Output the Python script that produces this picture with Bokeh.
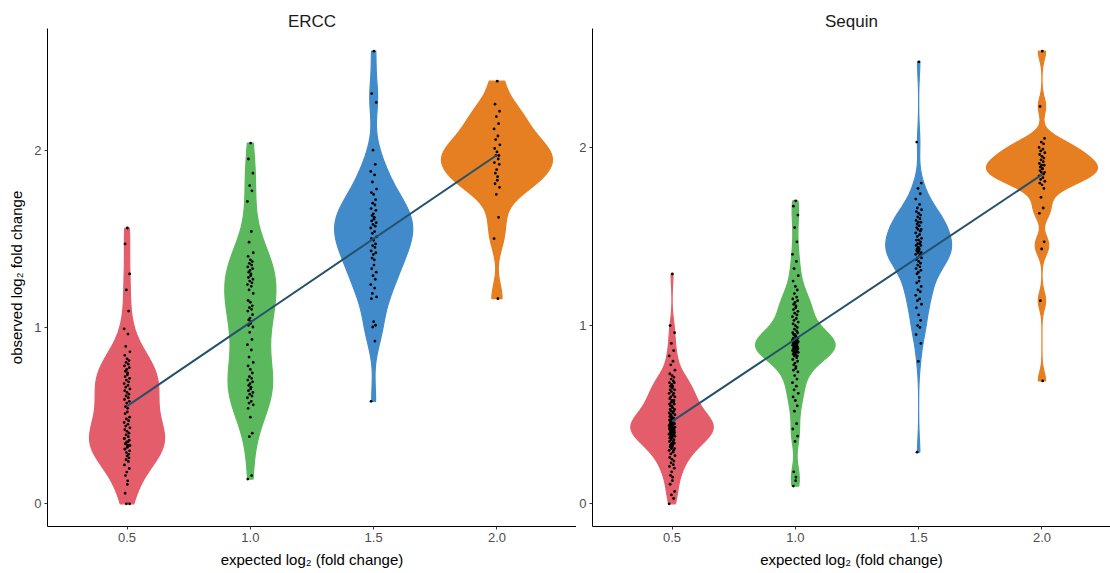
import numpy as np
from bokeh.plotting import figure
from bokeh.layouts import row
from bokeh.models import FixedTicker, NumeralTickFormatter, Range1d
from bokeh.embed import file_html
from bokeh.resources import INLINE

# ---- data -------------------------------------------------------------
expected = [0.5, 1.0, 1.5, 2.0]
x_tick_labels = ["0.5", "1.0", "1.5", "2.0"]
y_ticks = [0, 1, 2]
panel_titles = ["ERCC", "Sequin"]

# observed log2 fold change per spike-in, ERCC
ercc_05 = [1.56, 1.47, 1.30, 1.21, 1.09, 0.99, 0.96, 0.89, 0.86, 0.84,
           0.82, 0.81, 0.80, 0.79, 0.78, 0.77, 0.76, 0.75, 0.74, 0.73, 0.72, 0.71,
           0.70, 0.69, 0.68, 0.67, 0.66, 0.65, 0.64, 0.63, 0.62, 0.61, 0.60, 0.59,
           0.58, 0.57, 0.55, 0.54, 0.52, 0.51,
           0.49, 0.48, 0.47, 0.46, 0.45, 0.44, 0.43, 0.42, 0.41, 0.40, 0.39, 0.38,
           0.37, 0.36, 0.35, 0.34, 0.33, 0.32, 0.31, 0.30, 0.29, 0.28,
           0.37, 0.35, 0.34, 0.33, 0.31,
           0.27, 0.26, 0.25, 0.24, 0.22, 0.20, 0.18, 0.16, 0.13, 0.11,
           0.06, 0.00, 0.00]
ercc_10 = [2.04, 1.95, 1.87, 1.80, 1.77, 1.71, 1.54, 1.48,
           1.42, 1.40, 1.38, 1.37, 1.36, 1.35, 1.34, 1.33, 1.32, 1.31, 1.30, 1.29,
           1.28, 1.27, 1.26, 1.25, 1.24, 1.23, 1.21, 1.19,
           1.15, 1.14, 1.12, 1.11, 1.10, 1.09, 1.07, 1.05, 1.04, 1.03, 1.02, 1.01, 1.00,
           0.97, 0.93, 0.90, 0.87, 0.83, 0.80,
           0.78, 0.76, 0.74, 0.72, 0.71, 0.70, 0.69, 0.68, 0.67, 0.66, 0.65, 0.64,
           0.63, 0.62, 0.61, 0.60, 0.58, 0.57, 0.56, 0.54,
           0.49, 0.40, 0.38, 0.16, 0.14]
ercc_15 = [2.56, 2.32, 2.27, 2.00, 1.92, 1.88, 1.86, 1.82, 1.78, 1.76, 1.75,
           1.72, 1.70, 1.69, 1.67, 1.66, 1.64, 1.63, 1.62, 1.61, 1.60,
           1.59, 1.58, 1.57, 1.56, 1.54, 1.53, 1.51, 1.50,
           1.49, 1.47, 1.46, 1.45, 1.43, 1.42, 1.41, 1.39, 1.38,
           1.35, 1.33, 1.31, 1.29, 1.27, 1.24, 1.22, 1.19, 1.17, 1.16,
           1.03, 1.01, 1.00, 0.92, 0.58]
ercc_20 = [2.39, 2.26, 2.22, 2.19, 2.15, 2.12, 2.08, 2.06, 2.03, 2.01,
           1.99, 1.97, 1.97, 1.95, 1.93, 1.92, 1.89, 1.87, 1.85, 1.83,
           1.81, 1.79, 1.75, 1.62, 1.50, 1.16]

# observed log2 fold change per spike-in, Sequin
sequin_05 = [1.29, 1.00, 0.96, 0.90, 0.86, 0.83, 0.80, 0.78,
             0.75, 0.73, 0.72, 0.71, 0.70, 0.69, 0.68, 0.68, 0.67, 0.66, 0.66, 0.65,
             0.64, 0.64, 0.63, 0.62, 0.62, 0.61, 0.60, 0.60,
             0.59, 0.58, 0.58, 0.57, 0.57, 0.56, 0.56, 0.55, 0.55, 0.54, 0.54, 0.53,
             0.53, 0.52, 0.52, 0.51, 0.51, 0.50, 0.50,
             0.49, 0.49, 0.48, 0.48, 0.48, 0.47, 0.47, 0.47, 0.46, 0.46, 0.46, 0.45,
             0.45, 0.45, 0.45, 0.44, 0.44, 0.44, 0.43, 0.43, 0.43, 0.42, 0.42, 0.42,
             0.42, 0.41, 0.41, 0.41, 0.40, 0.40, 0.40, 0.40, 0.39, 0.39, 0.39, 0.38,
             0.38, 0.38, 0.37, 0.37, 0.36, 0.36, 0.35, 0.35, 0.34, 0.34, 0.33, 0.33,
             0.32, 0.32, 0.31, 0.31, 0.30, 0.30,
             0.29, 0.28, 0.27, 0.26, 0.25, 0.24, 0.23, 0.22, 0.21, 0.20, 0.18, 0.16,
             0.15, 0.13, 0.11,
             0.07, 0.05, 0.03, 0.00]
sequin_10 = [1.70, 1.67, 1.62, 1.55, 1.47, 1.40, 1.36, 1.32, 1.28, 1.25, 1.22, 1.20,
             1.18, 1.16,
             1.15, 1.14, 1.13, 1.12, 1.11, 1.10, 1.09, 1.08, 1.07, 1.06, 1.05, 1.04,
             1.03, 1.02, 1.01, 1.00,
             0.99, 0.98, 0.97, 0.96, 0.96, 0.95, 0.95, 0.94, 0.94, 0.93, 0.93, 0.92,
             0.92, 0.92, 0.91, 0.91, 0.91, 0.90, 0.90, 0.90, 0.89, 0.89, 0.89, 0.88,
             0.88, 0.88, 0.88, 0.87, 0.87, 0.87, 0.86, 0.86, 0.86, 0.85, 0.85, 0.85,
             0.84, 0.84, 0.83, 0.83, 0.82, 0.81, 0.80,
             0.79, 0.78, 0.77, 0.76, 0.75, 0.74, 0.72, 0.70, 0.68, 0.66, 0.64, 0.62,
             0.60,
             0.58, 0.55, 0.52,
             0.45, 0.42, 0.38, 0.35, 0.18, 0.15, 0.13, 0.10]
sequin_15 = [2.48, 2.03, 1.80, 1.77, 1.74, 1.71, 1.68, 1.66,
             1.65, 1.64, 1.63, 1.62, 1.61, 1.60, 1.59, 1.58, 1.58, 1.57, 1.56, 1.56,
             1.55, 1.54, 1.54, 1.53, 1.52, 1.51, 1.50,
             1.49, 1.48, 1.48, 1.47, 1.46, 1.46, 1.45, 1.45, 1.44, 1.43, 1.43, 1.42,
             1.42, 1.41, 1.41, 1.40, 1.40, 1.39, 1.38, 1.38, 1.37, 1.36, 1.35, 1.34,
             1.33, 1.32, 1.31, 1.30,
             1.29, 1.27, 1.25, 1.24, 1.22, 1.20, 1.19, 1.17, 1.15, 1.14, 1.12, 1.10,
             1.06, 1.03, 1.00, 0.99, 0.95, 0.90, 0.80, 0.29]
sequin_20 = [2.54, 2.23, 2.05, 2.03, 2.02, 2.00, 1.99, 1.98, 1.97, 1.96, 1.95, 1.94,
             1.93, 1.92, 1.91, 1.90, 1.90, 1.89, 1.88, 1.88, 1.87, 1.86, 1.86, 1.85,
             1.84, 1.83, 1.82, 1.81, 1.80, 1.79, 1.77, 1.72, 1.66, 1.63, 1.47, 1.43,
             1.14, 0.69]

# ---- styling ----------------------------------------------------------
FILLS = ["#e35d6a", "#5cb85c", "#428bca", "#e67e22"]
FIT_COLOR = "#24506e"
FONT = "Liberation Sans"
VIOLIN_WIDTH = 0.45          # full width of the widest violin, in x units
JITTER = [0.1, -0.6, 0.8, -0.2, 0.5, -0.9, 0.3, -0.4, 0.9, -0.7,
          0.0, 0.6, -0.3, 0.4, -0.8, 0.7, -0.1, -0.5, 0.2]
JITTER_SCALE = 0.013

H = 573
TOP, BOTTOM = 28, 47
LEFT_W, LEFT_BORDER = 576, 47
RIGHT_W, RIGHT_BORDER = 534, 16


def nrd0(v):
    sd = v.std(ddof=1)
    q75, q25 = np.percentile(v, [75, 25])
    lo = min(sd, (q75 - q25) / 1.34)
    if lo <= 0:
        lo = sd
    return 0.9 * lo * len(v) ** -0.2


def density(v):
    v = np.asarray(v, float)
    bw = nrd0(v)
    grid = np.linspace(v.min(), v.max(), 512)
    z = (grid[:, None] - v[None, :]) / bw
    d = np.exp(-0.5 * z ** 2).sum(axis=1) / (len(v) * bw * np.sqrt(2 * np.pi))
    return grid, d


# shared x extent: violins around the outer categories plus 5% padding
_x_lo = min(expected) - VIOLIN_WIDTH / 2
_x_hi = max(expected) + VIOLIN_WIDTH / 2
X_START = _x_lo - 0.05 * (_x_hi - _x_lo)
X_END = _x_hi + 0.05 * (_x_hi - _x_lo)
UNITS_PER_PX = (X_END - X_START) / (LEFT_W - LEFT_BORDER)


def make_panel(title, groups, width, border_left, x_end, y_label=None):
    groups = [np.asarray(g, float) for g in groups]
    dens = [density(g) for g in groups]
    dmax = max(d.max() for _, d in dens)

    all_y = np.concatenate(groups)
    lo, hi = all_y.min(), all_y.max()
    pad = 0.05 * (hi - lo)

    p = figure(width=width, height=H,
               x_range=Range1d(X_START, x_end),
               y_range=Range1d(lo - pad, hi + pad),
               output_backend="svg", toolbar_location=None,
               min_border_left=border_left, min_border_right=0,
               min_border_top=TOP, min_border_bottom=BOTTOM)
    p.background_fill_color = "white"
    p.border_fill_color = "white"
    p.outline_line_color = None
    p.xgrid.visible = False
    p.ygrid.visible = False

    # violins (area-scaled, trimmed to the data range)
    for cx, (grid, d), col in zip(expected, dens, FILLS):
        hw = d / dmax * VIOLIN_WIDTH / 2
        xs = np.concatenate([cx + hw, (cx - hw)[::-1]])
        ys = np.concatenate([grid, grid[::-1]])
        p.patch(xs, ys, fill_color=col, line_color=col, line_width=1.2)

    # jittered observations
    for cx, g in zip(expected, groups):
        jx = [cx + JITTER[i % len(JITTER)] * JITTER_SCALE for i in range(len(g))]
        p.scatter(jx, g, size=2.8, marker="circle", color="black", line_color=None)

    # least-squares fit of observed on expected
    fx = np.concatenate([[cx] * len(g) for cx, g in zip(expected, groups)])
    slope, icpt = np.polyfit(fx, all_y, 1)
    x0, x1 = min(expected), max(expected)
    p.line([x0, x1], [icpt + slope * x0, icpt + slope * x1],
           line_color=FIT_COLOR, line_width=2)

    # axes
    p.xaxis.ticker = FixedTicker(ticks=expected)
    p.xaxis.formatter = NumeralTickFormatter(format="0.0")
    p.yaxis.ticker = FixedTicker(ticks=y_ticks)
    p.yaxis.formatter = NumeralTickFormatter(format="0")
    for ax in (p.xaxis[0], p.yaxis[0]):
        ax.axis_line_color = "black"
        ax.axis_line_width = 1
        ax.major_tick_line_color = "#333333"
        ax.major_tick_in = 0
        ax.major_tick_out = 3
        ax.minor_tick_line_color = None
        ax.major_label_text_color = "#4d4d4d"
        ax.major_label_text_font = FONT
        ax.major_label_text_font_size = "13px"
        ax.major_label_standoff = 3
        ax.axis_label_text_font = FONT
        ax.axis_label_text_font_size = "15px"
        ax.axis_label_text_font_style = "normal"
        ax.axis_label_text_color = "black"
        ax.axis_label_standoff = 6
    p.xaxis.axis_label = "expected log\u2082 (fold change)"
    if y_label:
        p.yaxis.axis_label = y_label

    p.title.text = title
    p.title.align = "center"
    p.title.text_font = FONT
    p.title.text_font_style = "normal"
    p.title.text_font_size = "17px"
    p.title.text_color = "#1a1a1a"
    p.title.standoff = -5
    return p


left = make_panel(panel_titles[0], [ercc_05, ercc_10, ercc_15, ercc_20],
                  LEFT_W, LEFT_BORDER, X_END,
                  y_label="observed log\u2082 fold change")
right_end = X_START + (RIGHT_W - RIGHT_BORDER) * UNITS_PER_PX
right = make_panel(panel_titles[1], [sequin_05, sequin_10, sequin_15, sequin_20],
                   RIGHT_W, RIGHT_BORDER, right_end)

layout = row(left, right)
open("out.html", "w").write(file_html(layout, INLINE))
